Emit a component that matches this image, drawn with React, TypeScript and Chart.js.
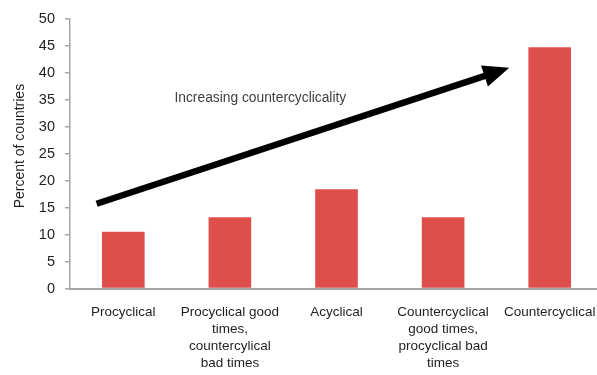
import React, { useEffect, useRef } from "react";
import { Chart, registerables } from "chart.js";

Chart.register(...registerables);

const categories: string[][] = [
  ["Procyclical"],
  ["Procyclical good", "times,", "countercylical", "bad times"],
  ["Acyclical"],
  ["Countercyclical", "good times,", "procyclical bad", "times"],
  ["Countercyclical"],
];
const percentOfCountries: number[] = [10.5, 13.2, 18.4, 13.2, 44.7];
const yTicks = { min: 0, max: 50, step: 5 };
const yTitle = "Percent of countries";
const arrowText = "Increasing countercyclicality";
// arrow endpoints in data units (category index, percent)
const arrowFrom = { x: -0.25, y: 15.7 };
const arrowTo = { x: 3.62, y: 40.9 };
const arrowTextAt = { x: 0.48, y: 35.3 };

const FONT = "'Liberation Sans', Arial, sans-serif";
const AXIS_GRAY = "#a6a6a6";
const TEXT = "#1f1f1f";

const arrowPlugin = {
  id: "arrowPlugin",
  afterDatasetsDraw(chart: any) {
    const { ctx, scales, chartArea } = chart;
    const xs = scales.x;
    const ys = scales.y;
    const x1 = xs.getPixelForValue(arrowFrom.x);
    const y1 = ys.getPixelForValue(arrowFrom.y);
    const x2 = xs.getPixelForValue(arrowTo.x);
    const y2 = ys.getPixelForValue(arrowTo.y);
    const ang = Math.atan2(y2 - y1, x2 - x1);
    const headLen = 26;
    const headHalf = 11;
    const bx = x2 - headLen * Math.cos(ang);
    const by = y2 - headLen * Math.sin(ang);
    ctx.save();
    ctx.strokeStyle = "#000";
    ctx.fillStyle = "#000";
    ctx.lineWidth = 6.5;
    ctx.lineCap = "butt";
    ctx.beginPath();
    ctx.moveTo(x1, y1);
    ctx.lineTo(bx + 2 * Math.cos(ang), by + 2 * Math.sin(ang));
    ctx.stroke();
    ctx.beginPath();
    ctx.moveTo(x2, y2);
    ctx.lineTo(bx - headHalf * Math.sin(ang), by + headHalf * Math.cos(ang));
    ctx.lineTo(bx + headHalf * Math.sin(ang), by - headHalf * Math.cos(ang));
    ctx.closePath();
    ctx.fill();
    ctx.font = `13.8px ${FONT}`;
    ctx.fillStyle = "#404040";
    ctx.textAlign = "left";
    ctx.textBaseline = "middle";
    ctx.fillText(arrowText, xs.getPixelForValue(arrowTextAt.x), ys.getPixelForValue(arrowTextAt.y));
    // y-axis title, placed slightly above the axis centre as in the source
    ctx.translate(chartArea.left - 50, (chartArea.top + chartArea.bottom) / 2 - 7.5);
    ctx.rotate(-Math.PI / 2);
    ctx.font = `14px ${FONT}`;
    ctx.fillStyle = TEXT;
    ctx.textAlign = "center";
    ctx.textBaseline = "middle";
    ctx.fillText(yTitle, 0, 0);
    ctx.restore();
  },
};

export default function App() {
  const ref = useRef<HTMLCanvasElement | null>(null);
  useEffect(() => {
    if (!ref.current) return;
    const chart = new Chart(ref.current, {
      type: "bar",
      data: {
        labels: categories,
        datasets: [
          {
            data: percentOfCountries,
            backgroundColor: "#de4f4c",
            borderWidth: 0,
            barPercentage: 0.4,
            categoryPercentage: 1,
          },
        ],
      },
      options: {
        animation: false,
        responsive: true,
        maintainAspectRatio: false,
        layout: { padding: { left: 0, right: 0, top: 17, bottom: 0 } },
        plugins: { legend: { display: false }, tooltip: { enabled: false } },
        scales: {
          x: {
            grid: { display: false },
            border: { display: true, color: AXIS_GRAY, width: 2 },
            afterFit: (s: any) => {
              s.height = 86.5;
            },
            ticks: {
              color: TEXT,
              maxRotation: 0,
              autoSkip: false,
              padding: 7,
              font: { family: FONT, size: 13.5, lineHeight: 1.27 },
            },
          },
          y: {
            min: yTicks.min,
            max: yTicks.max,
            afterFit: (s: any) => {
              s.width = 70;
            },
            grid: { drawOnChartArea: false, tickLength: 5, color: AXIS_GRAY, lineWidth: 1.5 },
            border: { display: true, color: AXIS_GRAY, width: 1.5 },
            ticks: {
              stepSize: yTicks.step,
              color: TEXT,
              padding: 10,
              font: { family: FONT, size: 14.5 },
            },
            title: { display: false, text: yTitle },
          },
        },
      },
      plugins: [arrowPlugin],
    });
    return () => chart.destroy();
  }, []);
  return (
    <div style={{ position: "fixed", left: 0, top: 0, width: 597, height: 375, overflow: "hidden", background: "#fff" }}>
      <div style={{ position: "relative", width: 603, height: 375 }}>
        <canvas ref={ref} />
      </div>
    </div>
  );
}
